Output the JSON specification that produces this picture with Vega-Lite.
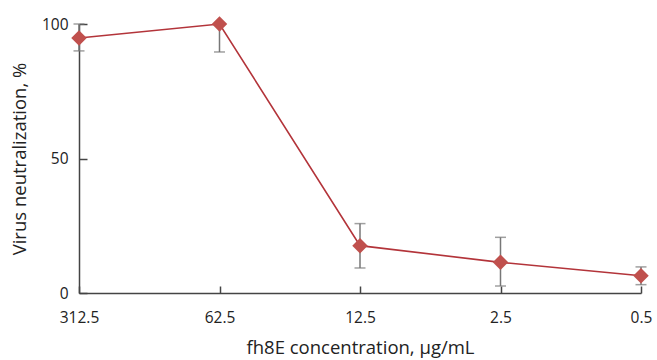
{
  "$schema": "https://vega.github.io/schema/vega-lite/v6.json",
  "autosize": "none",
  "width": 562,
  "height": 269,
  "padding": {"left": 79, "top": 24, "right": 16, "bottom": 67},
  "background": "white",
  "config": {
    "view": {"stroke": null},
    "font": "Open Sans",
    "axis": {
      "domainColor": "#444",
      "domainWidth": 1.5,
      "tickColor": "#444",
      "tickWidth": 1.5,
      "grid": false,
      "labelFont": "Open Sans",
      "labelFontSize": 15.5,
      "labelColor": "#222",
      "titleFont": "Open Sans",
      "titleFontSize": 18.5,
      "titleFontWeight": "normal",
      "titleColor": "#222"
    }
  },
  "data": {
    "values": [
      {"conc": "312.5", "mean": 94.8, "lo": 90, "hi": 100},
      {"conc": "62.5", "mean": 100, "lo": 89.6, "hi": 100},
      {"conc": "12.5", "mean": 17.6, "lo": 9.3, "hi": 25.8},
      {"conc": "2.5", "mean": 11.4, "lo": 2.6, "hi": 20.7},
      {"conc": "0.5", "mean": 6.4, "lo": 3.1, "hi": 9.7}
    ]
  },
  "encoding": {
    "x": {
      "field": "conc",
      "type": "ordinal",
      "sort": null,
      "scale": {"type": "point", "padding": 0},
      "axis": {
        "title": "fh8E concentration, µg/mL",
        "labelAngle": 0,
        "tickSize": -7,
        "labelPadding": 24,
        "titlePadding": 13
      }
    }
  },
  "layer": [
    {
      "mark": {"type": "rule", "color": "#777", "strokeWidth": 1.5},
      "encoding": {
        "y": {"field": "lo", "type": "quantitative"},
        "y2": {"field": "hi"}
      }
    },
    {
      "mark": {"type": "tick", "color": "#777", "size": 11, "thickness": 1.5, "orient": "horizontal"},
      "encoding": {"y": {"field": "lo", "type": "quantitative"}}
    },
    {
      "mark": {"type": "tick", "color": "#777", "size": 11, "thickness": 1.5, "orient": "horizontal"},
      "encoding": {"y": {"field": "hi", "type": "quantitative"}}
    },
    {
      "mark": {"type": "line", "color": "#b3343a", "strokeWidth": 1.6},
      "encoding": {
        "y": {
          "field": "mean",
          "type": "quantitative",
          "scale": {"domain": [0, 100], "nice": false},
          "axis": {
            "title": "Virus neutralization, %",
            "values": [0, 50, 100],
            "tickSize": -8,
            "labelPadding": 19,
            "titlePadding": 12
          }
        }
      }
    },
    {
      "mark": {"type": "point", "shape": "diamond", "filled": true, "color": "#c0504d", "size": 240, "opacity": 1},
      "encoding": {"y": {"field": "mean", "type": "quantitative"}}
    }
  ]
}
